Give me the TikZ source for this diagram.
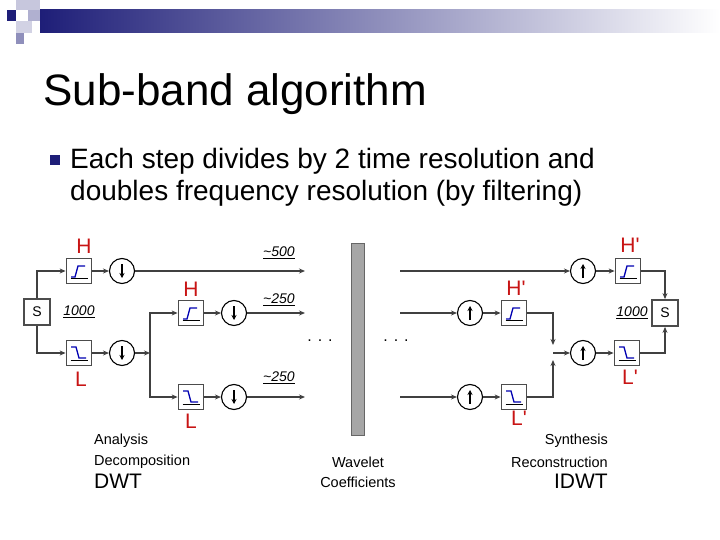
\documentclass[tikz,border=0pt]{standalone}
\usepackage{fontspec}
\setmainfont{Liberation Sans}
\usetikzlibrary{arrows.meta,calc}
\definecolor{navy}{RGB}{30,30,120}
\definecolor{lred}{RGB}{200,20,20}
\begin{document}
\begin{tikzpicture}[x=1pt,y=-1pt,
  line/.style={draw=black!75,line width=1.3pt},
  arr/.style={line,-{Stealth[length=6pt,width=5pt]}},
  sbox/.style={draw=black!70,line width=1.8pt,fill=white,minimum size=26pt,inner sep=0,font=\fontsize{14}{14}\selectfont},
  filt/.style={draw=black!70,line width=1.8pt,fill=white,minimum size=25pt,inner sep=0},
  hp/.style={filt,path picture={
     \draw[black,line width=1pt] ($(path picture bounding box.south west)+(4,-5)$) -- ($(path picture bounding box.south east)+(-4,-5)$);
     \draw[blue!70!black,line width=1.3pt] ($(path picture bounding box.center)+(-8,6)$) -- ++(4,0) -- ++(3,-11) -- ++(7,0);}},
  lp/.style={filt,path picture={
     \draw[black,line width=1pt] ($(path picture bounding box.south west)+(4,-5)$) -- ($(path picture bounding box.south east)+(-4,-5)$);
     \draw[blue!70!black,line width=1.3pt] ($(path picture bounding box.center)+(-8,-6)$) -- ++(5,0) -- ++(3,11) -- ++(7,0);}},
  dn/.style={circle,draw=black,line width=1.1pt,minimum size=25pt,inner sep=0,fill=white},
  lab/.style={text=lred,font=\fontsize{21}{21}\selectfont},
  rate/.style={font=\fontsize{14}{14}\selectfont\itshape,inner sep=1pt},
  captxt/.style={font=\fontsize{14.5}{14.5}\selectfont},
  bigtxt/.style={font=\fontsize{21}{21}\selectfont}]
\useasboundingbox (0,0) rectangle (720,540);
% header decoration
\shade[left color=navy,right color=white] (40,10) rectangle (720,33);
\fill[navy] (7,10) rectangle (16,21);
\fill[navy!25] (16,0) rectangle (40,10);
\fill[navy!35] (28,10) rectangle (40,21);
\fill[navy!20] (16,21) rectangle (32,33);
\fill[navy!50] (16,33) rectangle (24,44);
\node[anchor=base west,inner sep=0,font=\fontsize{44}{44}\selectfont] (title) at (43,106) {Sub-band algorithm};
\fill[navy] (50,155) rectangle (60,165);
\node[anchor=base west,inner sep=0,font=\fontsize{28}{28}\selectfont] (txt1) at (70,169) {Each step divides by 2 time resolution and};
\node[anchor=base west,inner sep=0,font=\fontsize{28}{28}\selectfont] (txt2) at (70,201) {doubles frequency resolution (by filtering)};
% analysis
\node[sbox] (s1) at (37,312) {S};
\node[hp] (h1) at (79,271) {};
\node[lp] (l1) at (79,353) {};
\node[dn] (d1) at (122,271) {};
\node[dn] (d2) at (122,353) {};
\node[hp] (h2) at (191,313) {};
\node[lp] (l2) at (191,397) {};
\node[dn] (d3) at (234,313) {};
\node[dn] (d4) at (234,397) {};
\coordinate (b1) at (150,353);
\coordinate (e1) at (305,271);
\coordinate (e2) at (305,313);
\coordinate (e3) at (305,397);
\draw[arr] (s1.north) |- (h1.west);
\draw[arr] (s1.south) |- (l1.west);
\draw[arr] (h1) -- (d1);
\draw[arr] (l1) -- (d2);
\draw[arr] (d1) -- (e1);
\draw[arr] (d2) -- (b1);
\draw[arr] (b1) |- (h2.west);
\draw[arr] (b1) |- (l2.west);
\draw[arr] (h2) -- (d3);
\draw[arr] (l2) -- (d4);
\draw[arr] (d3) -- (e2);
\draw[arr] (d4) -- (e3);
\foreach \d in {d1,d2,d3,d4}{\draw[-{Stealth[length=5pt,width=5pt]},line width=1.1pt] ($(\d.center)+(0,-7)$) -- ($(\d.center)+(0,7)$);}
% bar
\node[draw=black!60,fill=gray!70,line width=1pt,minimum width=13pt,minimum height=192pt,inner sep=0] (bar) at (357.5,339) {};
\node[font=\fontsize{16}{16}\selectfont] (dt1) at (320,341) {. . .};
\node[font=\fontsize{16}{16}\selectfont] (dt2) at (396,341) {. . .};
% synthesis
\node[sbox] (s2) at (665,313) {S};
\node[hp] (h3) at (628,271) {};
\node[lp] (l3) at (627,353) {};
\node[dn] (u1) at (583,271) {};
\node[dn] (u2) at (583,353) {};
\node[hp] (h4) at (514,313) {};
\node[lp] (l4) at (514,397) {};
\node[dn] (u3) at (470,313) {};
\node[dn] (u4) at (470,397) {};
\coordinate (f1) at (400,271);
\coordinate (f2) at (400,313);
\coordinate (f3) at (400,397);
\coordinate (j1) at (553,345);
\coordinate (j2) at (553,360);
\coordinate (j0) at (553,353);
\draw[arr] (f1) -- (u1);
\draw[arr] (f2) -- (u3);
\draw[arr] (f3) -- (u4);
\draw[arr] (u1) -- (h3);
\draw[arr] (u3) -- (h4);
\draw[arr] (u4) -- (l4);
\draw[arr] (h4.east) -| (j1);
\draw[arr] (l4.east) -| (j2);
\draw[arr] (j0) -- (u2);
\draw[arr] (u2) -- (l3);
\draw[arr] (h3.east) -| (s2.north);
\draw[arr] (l3.east) -| (s2.south);
\foreach \d in {u1,u2,u3,u4}{\draw[-{Stealth[length=5pt,width=5pt]},line width=1.1pt] ($(\d.center)+(0,7)$) -- ($(\d.center)+(0,-7)$);}
% labels
\node[lab] (lh1) at (84,246) {H};
\node[lab] (lh2) at (191,289) {H};
\node[lab] (ll1) at (81,379) {L};
\node[lab] (ll2) at (191,421) {L};
\node[lab] (lh3) at (630,245) {H\textquotesingle};
\node[lab] (lh4) at (516,288) {H\textquotesingle};
\node[lab] (ll3) at (630,377) {L\textquotesingle};
\node[lab] (ll4) at (519,418) {L\textquotesingle};
\node[rate] (r1) at (79,312) {\underline{1000}};
\node[rate] (r2) at (279,253) {\underline{\textasciitilde500}};
\node[rate] (r3) at (279,300) {\underline{\textasciitilde250}};
\node[rate] (r4) at (279,378) {\underline{\textasciitilde250}};
\node[rate] (r5) at (632,313) {\underline{1000}};
\node[captxt,anchor=west,inner sep=0] (c1) at (94,441) {Analysis};
\node[captxt,anchor=west,inner sep=0] (c2) at (94,462) {Decomposition};
\node[bigtxt,anchor=west,inner sep=0] (c3) at (94,481) {DWT};
\node[captxt] (c4) at (358,462) {Wavelet};
\node[captxt] (c5) at (358,482) {Coefficients};
\node[captxt,anchor=east,inner sep=0] (c6) at (608,441) {Synthesis};
\node[captxt,anchor=east,inner sep=0] (c7) at (608,462) {Reconstruction};
\node[bigtxt,anchor=east,inner sep=0] (c8) at (608,481) {IDWT};
\end{tikzpicture}
\end{document}
